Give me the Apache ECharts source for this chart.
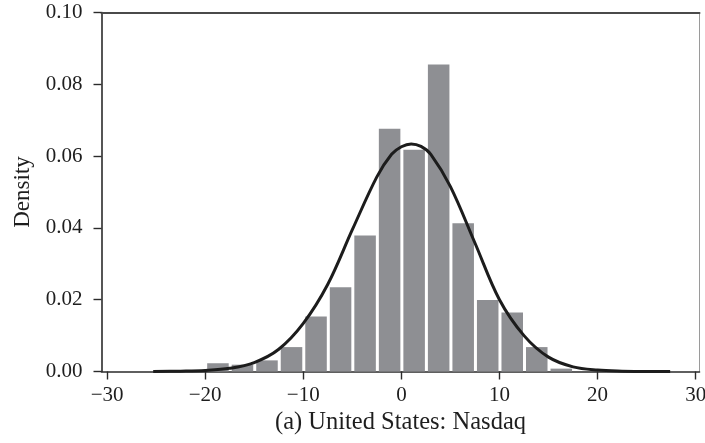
<!DOCTYPE html>
<html>
<head>
<meta charset="utf-8">
<title>Return density: Nasdaq</title>
<script src="https://cdn.jsdelivr.net/npm/echarts@6/dist/echarts.min.js"></script>
<style>
  html, body { margin: 0; padding: 0; background: #fff; }
  #chart { width: 705px; height: 443px; }
</style>
</head>
<body>
<div id="chart"></div>
<script>
// Histogram bin edges (returns, %) and the density of each bin
const binEdges = [-19.95, -17.45, -14.95, -12.45, -9.95, -7.45, -4.95, -2.45,
                  0.05, 2.55, 5.05, 7.55, 10.05, 12.55, 15.05, 17.55];
const binDensity = [0.0023, 0.0019, 0.0031, 0.0068, 0.0153, 0.0235, 0.0379, 0.0676,
                    0.0618, 0.0855, 0.0413, 0.0199, 0.0164, 0.0068, 0.0008];

// Fitted density curve: x positions and density values
const curveX = [-25.3, -22.5, -20, -17.5, -15, -12.5, -10, -7.5, -5, -2.5, -1, 0,
                1, 2, 3, 5, 7.5, 10, 12.5, 15, 17.5, 20, 22.5, 25, 27.4];
const curveY = [0.0000, 0.0001, 0.0003, 0.0009, 0.0025, 0.0062, 0.0134, 0.0243, 0.0395,
                0.0542, 0.0605, 0.0626, 0.0634, 0.0627, 0.0605, 0.0515, 0.0358, 0.0200,
                0.0100, 0.0040, 0.0013, 0.0004, 0.0001, 0.0000, 0.0000];

// Axis ticks
const xTicks = [-30, -20, -10, 0, 10, 20, 30];
const yTicks = [0, 0.02, 0.04, 0.06, 0.08, 0.10];

const xTitle = '(a) United States: Nasdaq';
const yTitle = 'Density';

const histData = binDensity.map((d, i) => [binEdges[i], binEdges[i + 1], d]);
const curveData = curveX.map((x, i) => [x, curveY[i]]);

const FONT = 'Liberation Serif';
const TEXT = '#1e1e1e';

const chart = echarts.init(document.getElementById('chart'), null, { renderer: 'canvas' });

chart.setOption({
  animation: false,
  backgroundColor: '#ffffff',
  grid: {
    left: 101.5, right: 5.5, top: 12.5, bottom: 71.5,
    containLabel: false,
    outerBoundsMode: 'none'
  },
  xAxis: [
    {
      type: 'value',
      min: -30.57, max: 30.39,
      name: xTitle,
      nameLocation: 'middle',
      nameGap: 33,
      nameTextStyle: { fontFamily: FONT, fontSize: 24.5, color: TEXT },
      axisLine: { show: true, onZero: false, lineStyle: { color: '#2b2b2b', width: 1.6 } },
      axisTick: { show: true, length: 8, customValues: xTicks, lineStyle: { color: '#2b2b2b', width: 1.4 } },
      axisLabel: {
        customValues: xTicks,
        margin: 13,
        fontFamily: FONT, fontSize: 21, color: TEXT,
        formatter: v => String(v).replace('-', '\u2212')
      },
      splitLine: { show: false }
    },
    {
      type: 'value',
      position: 'top',
      min: -30.57, max: 30.39,
      axisLine: { show: true, onZero: false, lineStyle: { color: '#4a4a4a', width: 2 } },
      axisTick: { show: false },
      axisLabel: { show: false },
      splitLine: { show: false }
    }
  ],
  yAxis: [
    {
      type: 'value',
      min: 0, max: 0.1, interval: 0.02,
      name: yTitle,
      nameLocation: 'middle',
      nameGap: 62,
      nameRotate: 90,
      nameTextStyle: { fontFamily: FONT, fontSize: 23, color: TEXT },
      axisLine: { show: true, onZero: false, lineStyle: { color: '#2b2b2b', width: 1.6 } },
      axisTick: { show: true, length: 8, lineStyle: { color: '#2b2b2b', width: 1.4 } },
      axisLabel: {
        margin: 19,
        fontFamily: FONT, fontSize: 21, color: TEXT,
        formatter: v => v.toFixed(2)
      },
      splitLine: { show: false }
    },
    {
      type: 'value',
      position: 'right',
      min: 0, max: 0.1,
      axisLine: { show: true, onZero: false, lineStyle: { color: '#9a9a9a', width: 1 } },
      axisTick: { show: false },
      axisLabel: { show: false },
      splitLine: { show: false }
    }
  ],
  series: [
    {
      name: 'Histogram',
      type: 'custom',
      xAxisIndex: 0, yAxisIndex: 0,
      data: histData,
      encode: { x: [0, 1], y: 2 },
      z: 2,
      renderItem: function (params, api) {
        const top = api.coord([api.value(0), api.value(2)]);
        const base = api.coord([api.value(1), 0]);
        const gap = 1.5;
        return {
          type: 'rect',
          shape: {
            x: top[0] + gap,
            y: top[1],
            width: base[0] - top[0] - 2 * gap,
            height: base[1] - top[1]
          },
          style: { fill: '#8e8f93' }
        };
      }
    },
    {
      name: 'Density',
      type: 'line',
      xAxisIndex: 0, yAxisIndex: 0,
      data: curveData,
      smooth: 0.35,
      showSymbol: false,
      z: 3,
      lineStyle: { color: '#1c1c1c', width: 3 }
    }
  ]
});
</script>
</body>
</html>
